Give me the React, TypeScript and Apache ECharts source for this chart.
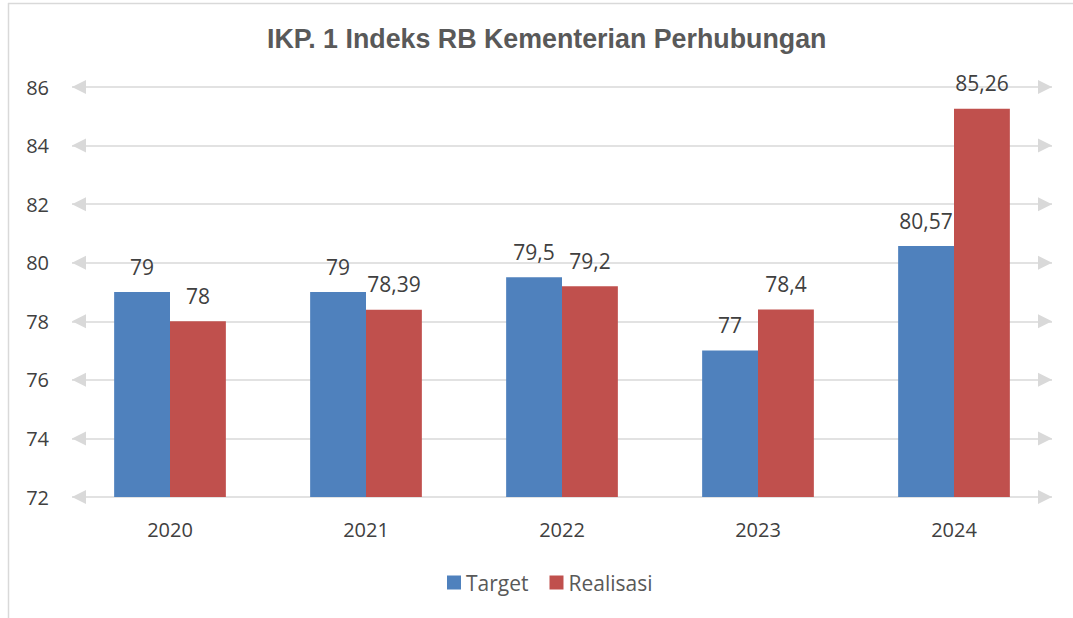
import React, { useEffect, useRef } from "react";
import * as echarts from "echarts";

const categories = ["2020", "2021", "2022", "2023", "2024"];
const targetValues = [79, 79, 79.5, 77, 80.57];
const realisasiValues = [78, 78.39, 79.2, 78.4, 85.26];
const yTicks = [72, 74, 76, 78, 80, 82, 84, 86];
const seriesNames = ["Target", "Realisasi"];
const titleText = "IKP. 1 Indeks RB Kementerian Perhubungan";

const FONT = "'Open Sans', 'Noto Sans', sans-serif";
const fmt = (v: number) => String(v).replace(".", ",");

export default function App() {
  const ref = useRef<HTMLDivElement>(null);
  useEffect(() => {
    if (!ref.current) return;
    const chart = echarts.init(ref.current, null, { renderer: "svg" });
    const labelCfg = {
      show: true,
      position: "top" as const,
      distance: 15,
      color: "#404040",
      fontSize: 21,
      fontFamily: FONT,
      formatter: (p: any) => fmt(p.value),
    };
    chart.setOption({
      animation: false,
      backgroundColor: "#ffffff",
      title: {
        text: titleText,
        left: 267,
        top: 25,
        padding: 0,
        textStyle: {
          fontFamily: "'Liberation Sans', Arial, sans-serif",
          fontWeight: "bold",
          fontSize: 26.8,
          color: "#595959",
        },
      },
      legend: {
        bottom: 20,
        left: 442,
        itemWidth: 14,
        itemHeight: 14,
        itemGap: 21,
        icon: "rect",
        textStyle: { fontFamily: FONT, fontSize: 21, color: "#595959" },
        data: seriesNames,
      },
      grid: { left: 72, right: 21, top: 87, bottom: 121, containLabel: false },
      xAxis: {
        type: "category",
        data: categories,
        axisLine: { show: false },
        axisTick: { show: false },
        axisLabel: { fontFamily: FONT, fontSize: 20, color: "#404040", margin: 22 },
      },
      yAxis: {
        type: "value",
        min: yTicks[0],
        max: yTicks[yTicks.length - 1],
        interval: 2,
        splitLine: { show: false },
        axisLine: { show: false },
        axisTick: { show: false },
        axisLabel: { fontFamily: FONT, fontSize: 20, color: "#404040", margin: 23 },
      },
      graphic: [
        { type: "line", shape: { x1: 8, y1: 3.5, x2: 1073, y2: 3.5 }, style: { stroke: "#D9D9D9", lineWidth: 1.5 }, silent: true },
        { type: "line", shape: { x1: 8.5, y1: 3, x2: 8.5, y2: 618 }, style: { stroke: "#D9D9D9", lineWidth: 1.5 }, silent: true },
      ],
      series: [
        {
          name: seriesNames[0],
          type: "bar",
          data: targetValues,
          itemStyle: { color: "#4F81BD" },
          barGap: "0%",
          barCategoryGap: "43%",
          z: 3,
          label: labelCfg,
          markLine: {
            silent: true,
            z: 1,
            symbol: ["triangle", "triangle"],
            symbolSize: [14, 14],
            symbolOffset: [[0, 7], [0, 7]],
            label: { show: false },
            lineStyle: { color: "#D9D9D9", width: 1.5, type: "solid" },
            emphasis: { disabled: true },
            data: yTicks.map((v) => ({ yAxis: v })),
          },
        },
        {
          name: seriesNames[1],
          type: "bar",
          data: realisasiValues,
          itemStyle: { color: "#C0504D" },
          barGap: "0%",
          barCategoryGap: "43%",
          z: 3,
          label: labelCfg,
        },
      ],
    });
    return () => chart.dispose();
  }, []);
  return (
    <div
      ref={ref}
      style={{ position: "absolute", left: 0, top: 0, width: 1073, height: 618 }}
    />
  );
}
